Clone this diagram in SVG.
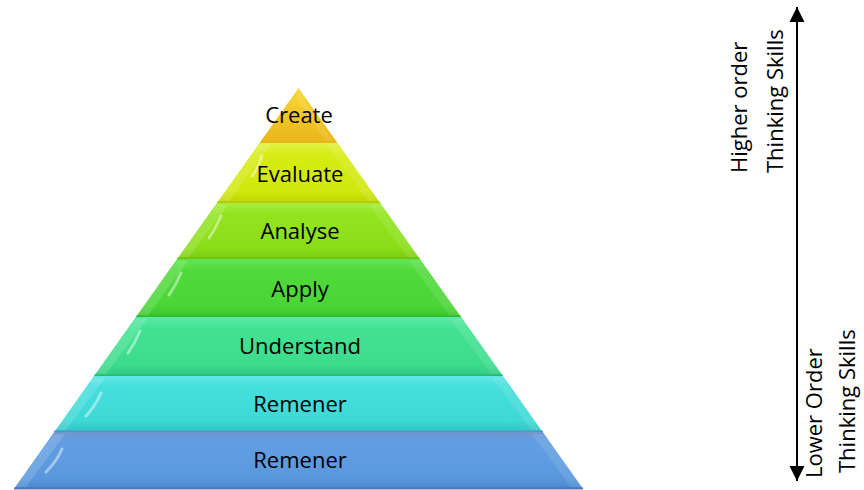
<svg xmlns="http://www.w3.org/2000/svg" width="864" height="490" viewBox="0 0 864 490">
  <style>
    .lbl { font-family: "Open Sans", "Liberation Sans", sans-serif; font-size: 22px; fill: #000; text-anchor: middle; }
    .side { font-family: "Open Sans", "Liberation Sans", sans-serif; font-size: 22px; fill: #000; }
    .bevelL { fill: #fff; opacity: 0.14; }
    .bevelR { fill: #fff; opacity: 0.10; }
    .gloss { fill: none; stroke: #fff; stroke-width: 3; stroke-linecap: round; opacity: 0.45; }
    .rim { fill: none; stroke-width: 2; }
    .axis { stroke: #000; stroke-width: 2; fill: none; }
  </style>
  <defs>
    <linearGradient id="gCreate" x1="0" y1="0" x2="0" y2="1">
      <stop offset="0" stop-color="#F8D83C"/>
      <stop offset="0.5" stop-color="#F2C624"/>
      <stop offset="1" stop-color="#E8B61A"/>
    </linearGradient>
    <linearGradient id="gEvaluate" x1="0" y1="0" x2="0" y2="1">
      <stop offset="0" stop-color="#E2F248"/>
      <stop offset="0.2" stop-color="#D6EC14"/>
      <stop offset="0.8" stop-color="#D0E80E"/>
      <stop offset="1" stop-color="#BCD606"/>
    </linearGradient>
    <linearGradient id="gAnalyse" x1="0" y1="0" x2="0" y2="1">
      <stop offset="0" stop-color="#A8EE40"/>
      <stop offset="0.2" stop-color="#92E41E"/>
      <stop offset="0.8" stop-color="#8ADE18"/>
      <stop offset="1" stop-color="#78CC10"/>
    </linearGradient>
    <linearGradient id="gApply" x1="0" y1="0" x2="0" y2="1">
      <stop offset="0" stop-color="#66E456"/>
      <stop offset="0.2" stop-color="#50DA3A"/>
      <stop offset="0.8" stop-color="#4AD636"/>
      <stop offset="1" stop-color="#3CC42C"/>
    </linearGradient>
    <linearGradient id="gUnderstand" x1="0" y1="0" x2="0" y2="1">
      <stop offset="0" stop-color="#5CEAA8"/>
      <stop offset="0.2" stop-color="#42E292"/>
      <stop offset="0.8" stop-color="#3CDC8C"/>
      <stop offset="1" stop-color="#2ECA7E"/>
    </linearGradient>
    <linearGradient id="gRem1" x1="0" y1="0" x2="0" y2="1">
      <stop offset="0" stop-color="#62E8E6"/>
      <stop offset="0.2" stop-color="#44DEDC"/>
      <stop offset="0.8" stop-color="#3ED8D6"/>
      <stop offset="1" stop-color="#30C4C6"/>
    </linearGradient>
    <linearGradient id="gRem2" x1="0" y1="0" x2="0" y2="1">
      <stop offset="0" stop-color="#7096CC"/>
      <stop offset="0.15" stop-color="#629EE2"/>
      <stop offset="0.8" stop-color="#5A98DE"/>
      <stop offset="1" stop-color="#4A86CE"/>
    </linearGradient>
    <marker id="arrowHead" viewBox="0 0 10 10" refX="10" refY="5" markerWidth="15" markerHeight="16" markerUnits="userSpaceOnUse" orient="auto-start-reverse">
      <path d="M0,0 L10,5 L0,10 z" fill="#000"/>
    </marker>
  </defs>

  <!-- pyramid tiers, apex (298.5,88), edge slope 0.71 -->
  <g id="create">
    <polygon points="298.5,88 337.5,143 259.5,143" fill="url(#gCreate)"/>
    <polygon class="bevelR" points="298.5,92 333,141 326,141 298.5,102"/>
    <text class="lbl" x="299" y="123">Create</text>
  </g>

  <g id="evaluate">
    <polygon points="259.5,143 337.5,143 380.2,203 216.9,203" fill="url(#gEvaluate)"/>
    <polygon class="bevelL" points="259.5,145 270,145 229,201 216.9,201"/>
    <polygon class="bevelR" points="337.5,145 327,145 368,201 380.2,201"/>
    <path class="gloss" d="M262,156 Q258,168 252,176" opacity="0.3"/>
    <line class="rim" x1="217" y1="202.5" x2="380" y2="202.5" stroke="#A8C000" opacity="0.6"/>
    <text class="lbl" x="300" y="182">Evaluate</text>
  </g>

  <g id="analyse">
    <polygon points="216.9,203 380.2,203 419.9,259 177.1,259" fill="url(#gAnalyse)"/>
    <polygon class="bevelL" points="216.9,205 228,205 189,257 177.1,257"/>
    <polygon class="bevelR" points="380.2,205 369,205 408,257 419.9,257"/>
    <path class="gloss" d="M221,216 Q216,228 209,238"/>
    <line class="rim" x1="177" y1="258.5" x2="420" y2="258.5" stroke="#6AB810" opacity="0.6"/>
    <text class="lbl" x="300" y="239">Analyse</text>
  </g>

  <g id="apply">
    <polygon points="177.1,259 419.9,259 461.1,317 135.9,317" fill="url(#gApply)"/>
    <polygon class="bevelL" points="177.1,261 188,261 148,315 135.9,315"/>
    <polygon class="bevelR" points="419.9,261 409,261 449,315 461.1,315"/>
    <path class="gloss" d="M181,273 Q176,285 169,295"/>
    <line class="rim" x1="136" y1="316.5" x2="461" y2="316.5" stroke="#32B02A" opacity="0.6"/>
    <text class="lbl" x="300" y="297">Apply</text>
  </g>

  <g id="understand">
    <polygon points="135.9,317 461.1,317 503,376 94,376" fill="url(#gUnderstand)"/>
    <polygon class="bevelL" points="135.9,319 147,319 106,374 94,374"/>
    <polygon class="bevelR" points="461.1,319 450,319 491,374 503,374"/>
    <path class="gloss" d="M140,331 Q135,343 128,353"/>
    <line class="rim" x1="94" y1="375.5" x2="503" y2="375.5" stroke="#28B070" opacity="0.7"/>
    <text class="lbl" x="300" y="354">Understand</text>
  </g>

  <g id="remember-upper">
    <polygon points="94,376 503,376 542.7,432 54.3,432" fill="url(#gRem1)"/>
    <polygon class="bevelL" points="94,378 105,378 66,430 54.3,430"/>
    <polygon class="bevelR" points="503,378 492,378 531,430 542.7,430"/>
    <path class="gloss" d="M101,393 Q96,405 86,416"/>
    <line class="rim" x1="54" y1="431.5" x2="543" y2="431.5" stroke="#5A8CC0" opacity="0.8"/>
    <text class="lbl" x="300" y="412">Remener</text>
  </g>

  <g id="remember-lower">
    <polygon points="54.3,432 542.7,432 583.2,489 13.8,489" fill="url(#gRem2)"/>
    <polygon class="bevelL" points="54.3,434 65,434 26,487 13.8,487"/>
    <polygon class="bevelR" points="542.7,434 532,434 571,487 583.2,487"/>
    <path class="gloss" d="M62,449 Q57,461 46,472"/>
    <line class="rim" x1="14" y1="488.5" x2="583" y2="488.5" stroke="#3E74B8" opacity="0.8"/>
    <text class="lbl" x="300" y="468">Remener</text>
  </g>

  <!-- double-headed scale arrow -->
  <g id="connectors">
    <line class="axis" x1="797" y1="481" x2="797" y2="7" marker-start="url(#arrowHead)" marker-end="url(#arrowHead)"/>
  </g>

  <g id="higher-label">
    <text class="side" transform="translate(747,173) rotate(-90)">Higher order</text>
    <text class="side" transform="translate(783,173) rotate(-90)">Thinking Skills</text>
  </g>

  <g id="lower-label">
    <text class="side" transform="translate(822,478) rotate(-90)">Lower Order</text>
    <text class="side" transform="translate(855,473) rotate(-90)">Thinking Skills</text>
  </g>
</svg>
